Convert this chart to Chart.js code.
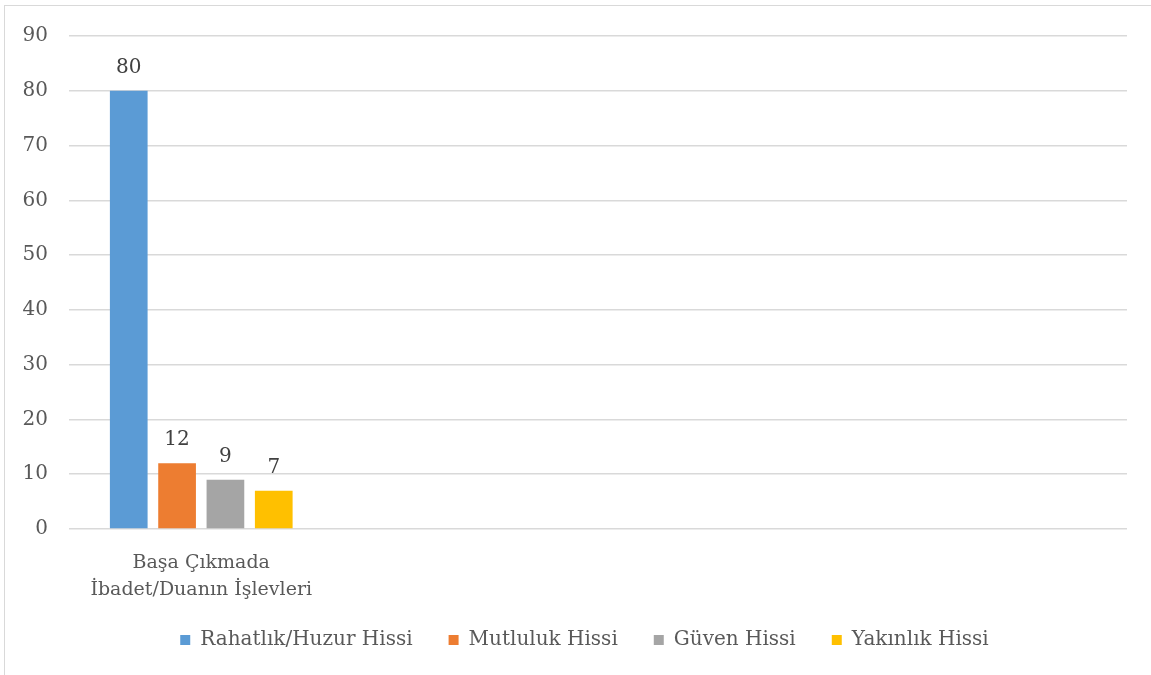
<!DOCTYPE html>
<html>
<head>
<meta charset="utf-8">
<script src="https://cdn.jsdelivr.net/npm/chart.js@4"></script>
<style>
  html, body { margin: 0; padding: 0; background: #fff; }
  #wrap { position: absolute; left: 0; top: 0; width: 1151px; height: 675px; }
  #frame { position: absolute; left: 4px; top: 5px; width: 1200px; height: 700px;
           border-left: 1px solid #d9d9d9; border-top: 1px solid #d9d9d9; }
</style>
</head>
<body>
<div id="frame"></div>
<div id="wrap"><canvas id="chartArea" width="1151" height="675"></canvas></div>
<script>
const chartArea = document.getElementById("chartArea");

// data
var categories = [["Başa Çıkmada", "İbadet/Duanın İşlevleri"], "", "", ""];
var seriesNames = ["Rahatlık/Huzur Hissi", "Mutluluk Hissi", "Güven Hissi", "Yakınlık Hissi"];
var rahatlik = [80];
var mutluluk = [12];
var guven = [9];
var yakinlik = [7];
var yTicks = [0, 10, 20, 30, 40, 50, 60, 70, 80, 90];

var colors = ["#5B9BD5", "#ED7D31", "#A5A5A5", "#FFC000"];
var fontFamily = "'DejaVu Serif', serif";

//draw value above each bar
const valueLabels = {
    id: "valueLabels",
    afterDatasetsDraw(chart) {
        const ctx = chart.ctx;
        ctx.save();
        ctx.font = "20px " + fontFamily;
        ctx.fillStyle = "#404040";
        ctx.textAlign = "center";
        ctx.textBaseline = "bottom";
        chart.data.datasets.forEach(function (ds, i) {
            chart.getDatasetMeta(i).data.forEach(function (bar, j) {
                if (ds.data[j] == null) return;
                ctx.fillText(ds.data[j], bar.x, bar.y - 13);
            });
        });
        ctx.restore();
    }
};

var seriesData = [rahatlik, mutluluk, guven, yakinlik];

var barChart = new Chart(chartArea, {
    type: "bar",
    data: {
        labels: categories,
        datasets: seriesNames.map(function (name, i) {
            return {
                label: name,
                data: seriesData[i],
                backgroundColor: colors[i],
                categoryPercentage: 0.731,
                barPercentage: 0.78
            };
        })
    },
    options: {
        responsive: false,
        animation: false,
        layout: { padding: { top: 36, right: 0, left: 18, bottom: 15 } },
        scales: {
            x: {
                grid: { display: false },
                border: { display: false },
                ticks: { color: "#595959", font: { family: fontFamily, size: 19, lineHeight: 1.42 }, padding: 13, maxRotation: 0, autoSkip: false },
                afterFit(scale) {
                    scale.height = 65;
                    scale._computeLabelArea = function () {};  //let the 2nd label line run past the axis box
                }
            },
            y: {
                min: 0,
                max: 90,
                afterBuildTicks(scale) { scale.ticks = yTicks.map(function (v) { return { value: v }; }); },
                grid: { color: "#d9d9d9", lineWidth: 1.5, drawTicks: false },
                border: { display: false },
                ticks: { color: "#595959", font: { family: fontFamily, size: 20 }, padding: 21 },
                afterFit(scale) { scale.width = 51; }
            },
            //empty axis, only keeps space on the right
            yRight: {
                position: "right",
                min: 0,
                max: 90,
                grid: { display: false },
                border: { display: false },
                ticks: { display: false },
                afterFit(scale) { scale.width = 24; }
            }
        },
        plugins: {
            legend: {
                position: "bottom",
                labels: { color: "#595959", font: { family: fontFamily, size: 20 }, boxWidth: 10, boxHeight: 10, padding: 36 }
            },
            tooltip: { enabled: false }
        }
    },
    plugins: [valueLabels]
});
</script>
</body>
</html>
